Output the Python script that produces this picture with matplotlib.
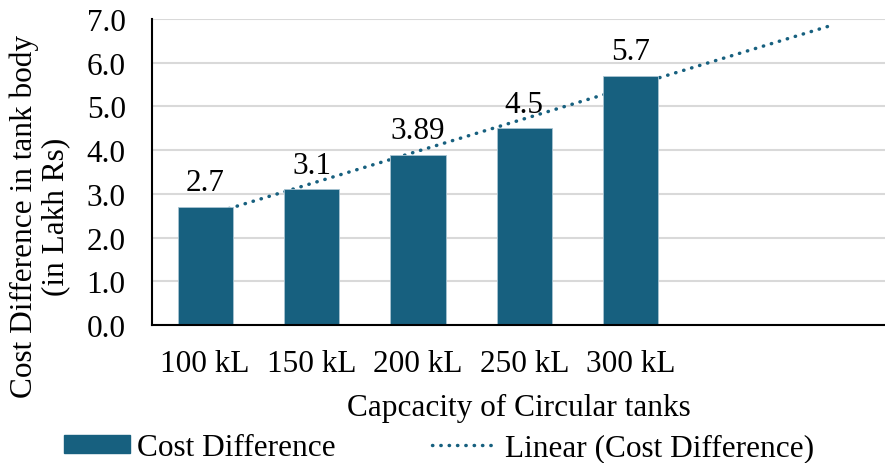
import numpy as np
import matplotlib.pyplot as plt
from matplotlib.lines import Line2D
from matplotlib.patches import Patch

plt.rcParams['font.family'] = ['Liberation Serif', 'DejaVu Serif']
plt.rcParams['font.size'] = 22.5

categories = ['100 kL', '150 kL', '200 kL', '250 kL', '300 kL']
cost_diff = [2.7, 3.1, 3.89, 4.5, 5.7]
labels = ['2.7', '3.1', '3.89', '4.5', '5.7']

bar_color = '#17607F'

fig = plt.figure(figsize=(8.85, 4.64), dpi=100)
ax = fig.add_axes([0.1718, 0.2974, 0.8282, 0.6595])

x = np.arange(1, len(categories) + 1)
ax.bar(x, cost_diff, width=0.52, color=bar_color, edgecolor='#A9C4D2',
       linewidth=0.6, zorder=3)

# linear trendline, forecast forward
slope, icpt = np.polyfit(x, cost_diff, 1)
xt = np.array([1.0, 6.92])
ax.plot(xt, slope * xt + icpt, color=bar_color, lw=2.5, ls=(0, (0.1, 2.3)),
        dash_capstyle='round', zorder=2)

for xi, v, lab in zip(x, cost_diff, labels):
    ax.annotate(lab, (xi, v), xytext=(0, 7), textcoords='offset points',
                ha='center', va='bottom', zorder=4)

ax.set_xlim(0.5, 7.39)
ax.set_ylim(0, 7.0)
ax.set_yticks(np.arange(0, 7.01, 1.0))
ax.set_yticklabels(['%.1f' % t for t in np.arange(0, 7.01, 1.0)])
ax.set_xticks(x)
ax.set_xticklabels(categories)
ax.tick_params(axis='both', length=0)
ax.tick_params(axis='x', pad=17)
ax.tick_params(axis='y', pad=19)
ax.grid(axis='y', color='#D9D9D9', lw=1.5, zorder=0)
ax.set_axisbelow(True)
for s in ['top', 'right']:
    ax.spines[s].set_visible(False)
for s in ['left', 'bottom']:
    ax.spines[s].set_linewidth(1.5)
    ax.spines[s].set_color('black')
    ax.spines[s].set_zorder(5)

ax.set_xlabel('Capcacity of Circular tanks', labelpad=11)
fig.text(40 / 885, 1 - 217 / 464, 'Cost Difference in tank body\n(in Lakh Rs)',
         rotation=90, ha='center', va='center', multialignment='center',
         linespacing=1.1)

handles = [Patch(facecolor=bar_color, edgecolor=bar_color),
           Line2D([0], [0], color=bar_color, lw=2.5, ls=(0, (0.1, 2.3)),
                  dash_capstyle='round')]
fig.legend(handles, ['Cost Difference', 'Linear (Cost Difference)'],
           loc='center', bbox_to_anchor=(0.496, 0.033), ncol=2, frameon=False,
           handlelength=2.1, handleheight=0.5, columnspacing=3.1,
           handletextpad=0.22, borderpad=0.1)

fig.savefig('out.png', dpi=100)
